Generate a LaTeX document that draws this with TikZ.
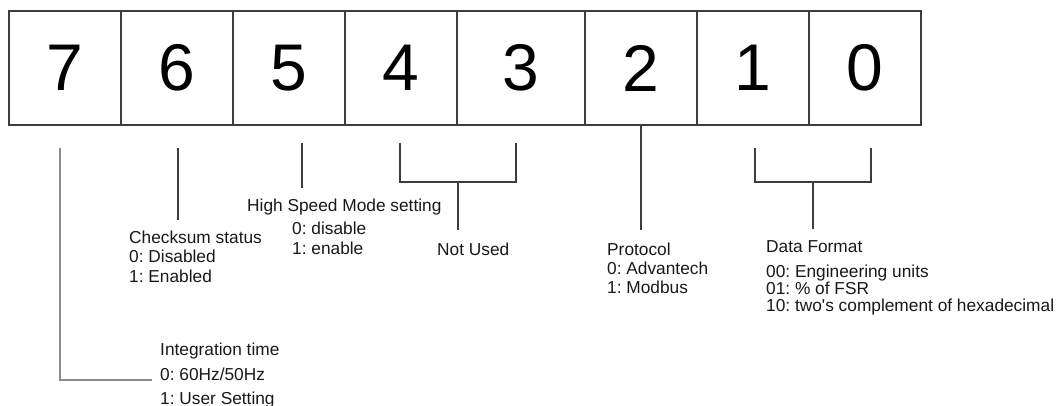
\documentclass[tikz,border=0pt]{standalone}
\usepackage{fontspec}
\setmainfont{Liberation Sans}
\usepackage{tikz}
\usetikzlibrary{positioning}
\usepackage{xcolor}
\frenchspacing
\definecolor{bxgray}{RGB}{60,60,60}
\definecolor{lngray}{RGB}{140,140,140}
\definecolor{txtblack}{RGB}{25,25,25}
\tikzstyle{bitcell} = [rectangle, draw=bxgray, line width=1.4pt, minimum height=114pt, minimum width=112pt, inner sep=0pt, outer sep=0pt, text=black, font=\fontsize{66}{70}\selectfont]
\tikzstyle{link} = [line width=1.4pt, color=bxgray]
\tikzstyle{lbl} = [anchor=base west, inner sep=0pt, text=txtblack, font=\fontsize{17.3}{20}\selectfont]

\begin{document}
\begin{tikzpicture}[x=1pt, y=-1pt]
    \useasboundingbox[fill=white] (0,0) rectangle (1059,406);

    % Register bits
    \node[bitcell] (b7) at (65,68) {7};
    \node[bitcell, right=0pt of b7] (b6) {6};
    \node[bitcell, right=0pt of b6] (b5) {5};
    \node[bitcell, right=0pt of b5] (b4) {4};
    \node[bitcell, right=0pt of b4, minimum width=128pt] (b3) {3};
    \node[bitcell, right=0pt of b3] (b2) {2};
    \node[bitcell, right=0pt of b2] (b1) {1};
    \node[bitcell, right=0pt of b1] (b0) {0};

    % Descriptions
    \node[lbl] (hsm) at (247,211) {High Speed Mode setting};
    \node[lbl] (hsm0) at (292,234) {0: disable};
    \node[lbl] (hsm1) at (292,254) {1: enable};

    \node[lbl] (chk) at (129,243) {Checksum status};
    \node[lbl] (chk0) at (129,262) {0: Disabled};
    \node[lbl] (chk1) at (129,282) {1: Enabled};

    \node[lbl] (unused) at (437,255) {Not Used};

    \node[lbl] (proto) at (607,255) {Protocol};
    \node[lbl] (proto0) at (607,274) {0: Advantech};
    \node[lbl] (proto1) at (607,293) {1: Modbus};

    \node[lbl] (dfmt) at (766,252) {Data Format};
    \node[lbl] (dfmt0) at (766,277) {00: Engineering units};
    \node[lbl] (dfmt1) at (766,294) {01: \% of FSR};
    \node[lbl] (dfmt2) at (766,311) {10: two\textquotesingle s complement of hexadecimal};

    \node[lbl] (integ) at (160,355) {Integration time};
    \node[lbl] (integ0) at (160,380) {0: 60Hz/50Hz};
    \node[lbl] (integ1) at (160,404) {1: User Setting};

    % Connections
    \coordinate (c7) at (60,148);
    \coordinate (k7) at (60,380);
    \draw[link, lngray] (c7) -- (k7) -- ([xshift=-8pt]integ0.west |- k7);

    \coordinate (c6) at (178,148);
    \draw[link] (c6) -- ++(0,72);

    \coordinate (c5) at (302,143);
    \draw[link] (c5) -- ++(0,45);

    \coordinate (c4) at (400,143);
    \coordinate (c3) at (516,143);
    \coordinate (m43) at (458,182);
    \draw[link] (c4) |- (m43) -| (c3);
    \draw[link] (m43) -- ++(0,48);

    \draw[link] (b2.south) -- ++(0,105);

    \coordinate (c1) at (755,148);
    \coordinate (c0) at (871,148);
    \coordinate (m10) at (813,182);
    \draw[link] (c1) |- (m10) -| (c0);
    \draw[link] (m10) -- ++(0,47);
\end{tikzpicture}
\end{document}
